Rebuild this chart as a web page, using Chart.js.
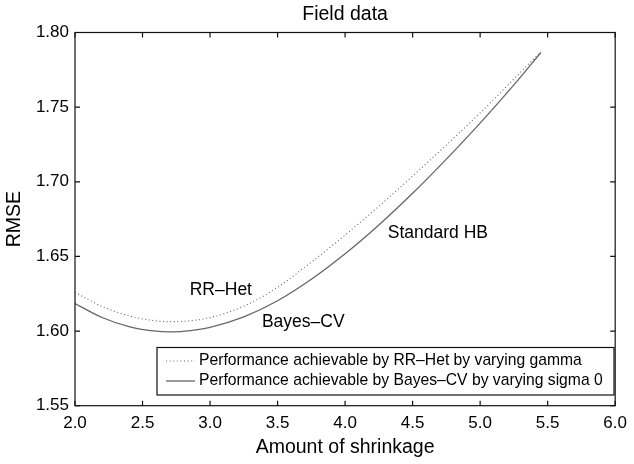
<!DOCTYPE html>
<html>
<head>
<meta charset="utf-8">
<script src="https://cdn.jsdelivr.net/npm/chart.js@4.4.1/dist/chart.umd.min.js"></script>
<style>
  html, body { margin: 0; padding: 0; background: #fff; }
  #wrap { width: 634px; height: 464px; }
</style>
</head>
<body>
<div id="wrap"><canvas id="c" width="634" height="464"></canvas></div>
<script>
// ---- Data ----
const shrinkRR = [2.0, 2.2, 2.4, 2.6, 2.7, 2.8, 3.0, 3.25, 3.5, 3.75, 4.0, 4.25, 4.5, 4.75, 5.0, 5.25, 5.45];
const rmseRR   = [1.6260, 1.6165, 1.6102, 1.6068, 1.6063, 1.6065, 1.6090, 1.6167, 1.6293, 1.6462, 1.6643, 1.6836, 1.7038, 1.7247, 1.7461, 1.7689, 1.7871];

const shrinkBayes = [2.0, 2.2, 2.4, 2.6, 2.7, 2.8, 3.0, 3.25, 3.5, 3.75, 4.0, 4.25, 4.5, 4.75, 5.0, 5.25, 5.45];
const rmseBayes   = [1.6184, 1.6091, 1.6030, 1.5999, 1.5995, 1.5998, 1.6025, 1.6095, 1.6203, 1.6347, 1.6518, 1.6711, 1.6923, 1.7152, 1.7393, 1.7649, 1.7866];

const xTicks = [2.0, 2.5, 3.0, 3.5, 4.0, 4.5, 5.0, 5.5, 6.0];
const yTicks = [1.55, 1.60, 1.65, 1.70, 1.75, 1.80];

const chartTitle = 'Field data';
const xTitle = 'Amount of shrinkage';
const yTitle = 'RMSE';
const legendLabels = [
  'Performance achievable by RR\u2013Het by varying gamma',
  'Performance achievable by Bayes\u2013CV by varying sigma 0'
];
const annotations = [
  { text: 'RR\u2013Het', x: 3.08, y: 1.6277 },
  { text: 'Bayes\u2013CV', x: 3.69, y: 1.6062 },
  { text: 'Standard HB', x: 4.687, y: 1.6655 }
];

const FONT = '"Liberation Sans", Arial, Helvetica, sans-serif';

const toXY = (xs, ys) => xs.map((x, i) => ({ x, y: ys[i] }));

const framePlugin = {
  id: 'frame',
  afterDraw(chart) {
    const { ctx, chartArea: a, scales: { x, y } } = chart;
    ctx.save();
    // frame
    ctx.strokeStyle = '#111';
    ctx.lineWidth = 1.2;
    ctx.strokeRect(a.left, a.top, a.right - a.left, a.bottom - a.top);
    // inward ticks
    const tl = 5;
    ctx.beginPath();
    xTicks.forEach(v => {
      const px = x.getPixelForValue(v);
      ctx.moveTo(px, a.bottom); ctx.lineTo(px, a.bottom - tl);
      ctx.moveTo(px, a.top); ctx.lineTo(px, a.top + tl);
    });
    yTicks.forEach(v => {
      const py = y.getPixelForValue(v);
      ctx.moveTo(a.left, py); ctx.lineTo(a.left + tl, py);
      ctx.moveTo(a.right, py); ctx.lineTo(a.right - tl, py);
    });
    ctx.stroke();

    // title
    ctx.fillStyle = '#000';
    ctx.textAlign = 'center';
    ctx.textBaseline = 'middle';
    ctx.font = '19.5px ' + FONT;
    ctx.fillText(chartTitle, (a.left + a.right) / 2, 15);

    // annotations
    ctx.font = '17.5px ' + FONT;
    annotations.forEach(an => {
      ctx.fillText(an.text, x.getPixelForValue(an.x), y.getPixelForValue(an.y));
    });

    // legend box
    const bx = 157, by = 347.5, bw = 457, bh = 47.5;
    ctx.fillStyle = '#fff';
    ctx.fillRect(bx, by, bw, bh);
    ctx.strokeStyle = '#111';
    ctx.lineWidth = 1.2;
    ctx.strokeRect(bx, by, bw, bh);
    const rows = [by + 13.5, by + 33.5];
    const ds = chart.data.datasets;
    rows.forEach((ry, i) => {
      ctx.beginPath();
      ctx.strokeStyle = ds[i].borderColor;
      ctx.lineWidth = ds[i].borderWidth;
      ctx.setLineDash(ds[i].borderDash || []);
      ctx.moveTo(bx + 9, ry); ctx.lineTo(bx + 38, ry);
      ctx.stroke();
      ctx.setLineDash([]);
      ctx.fillStyle = '#000';
      ctx.textAlign = 'left';
      ctx.font = '15.7px ' + FONT;
      ctx.fillText(legendLabels[i], bx + 42, ry);
    });
    ctx.restore();
  }
};

new Chart(document.getElementById('c'), {
  type: 'line',
  data: {
    datasets: [
      {
        label: legendLabels[0],
        data: toXY(shrinkRR, rmseRR),
        borderColor: '#666',
        borderWidth: 1.1,
        borderDash: [1, 2.6],
        pointRadius: 0,
        cubicInterpolationMode: 'monotone',
        fill: false
      },
      {
        label: legendLabels[1],
        data: toXY(shrinkBayes, rmseBayes),
        borderColor: '#666',
        borderWidth: 1.3,
        pointRadius: 0,
        cubicInterpolationMode: 'monotone',
        fill: false
      }
    ]
  },
  options: {
    responsive: false,
    animation: false,
    devicePixelRatio: 1,
    layout: { padding: { top: 32.5, right: 12.5, left: 0, bottom: 0 } },
    plugins: {
      legend: { display: false },
      title: { display: false },
      tooltip: { enabled: false }
    },
    scales: {
      x: {
        type: 'linear',
        min: 2, max: 6,
        afterFit(s) { s.height = 58.3; },
        afterBuildTicks(s) { s.ticks = xTicks.map(v => ({ value: v })); },
        grid: { display: false, drawTicks: false },
        border: { display: false },
        ticks: {
          padding: 7,
          color: '#000',
          font: { family: FONT, size: 17 },
          maxRotation: 0,
          callback: v => Number(v).toFixed(1)
        },
        title: {
          display: true,
          text: xTitle,
          color: '#000',
          font: { family: FONT, size: 19.5 },
          padding: { top: 0, bottom: 5 }
        }
      },
      y: {
        type: 'linear',
        min: 1.55, max: 1.80,
        afterFit(s) { s.width = 75; },
        afterBuildTicks(s) { s.ticks = yTicks.map(v => ({ value: v })); },
        grid: { display: false, drawTicks: false },
        border: { display: false },
        ticks: {
          padding: 6,
          color: '#000',
          font: { family: FONT, size: 17 },
          callback: v => Number(v).toFixed(2)
        },
        title: {
          display: true,
          text: yTitle,
          color: '#000',
          font: { family: FONT, size: 19.5 },
          padding: { top: 3, bottom: 0 }
        }
      }
    }
  },
  plugins: [framePlugin]
});
</script>
</body>
</html>
